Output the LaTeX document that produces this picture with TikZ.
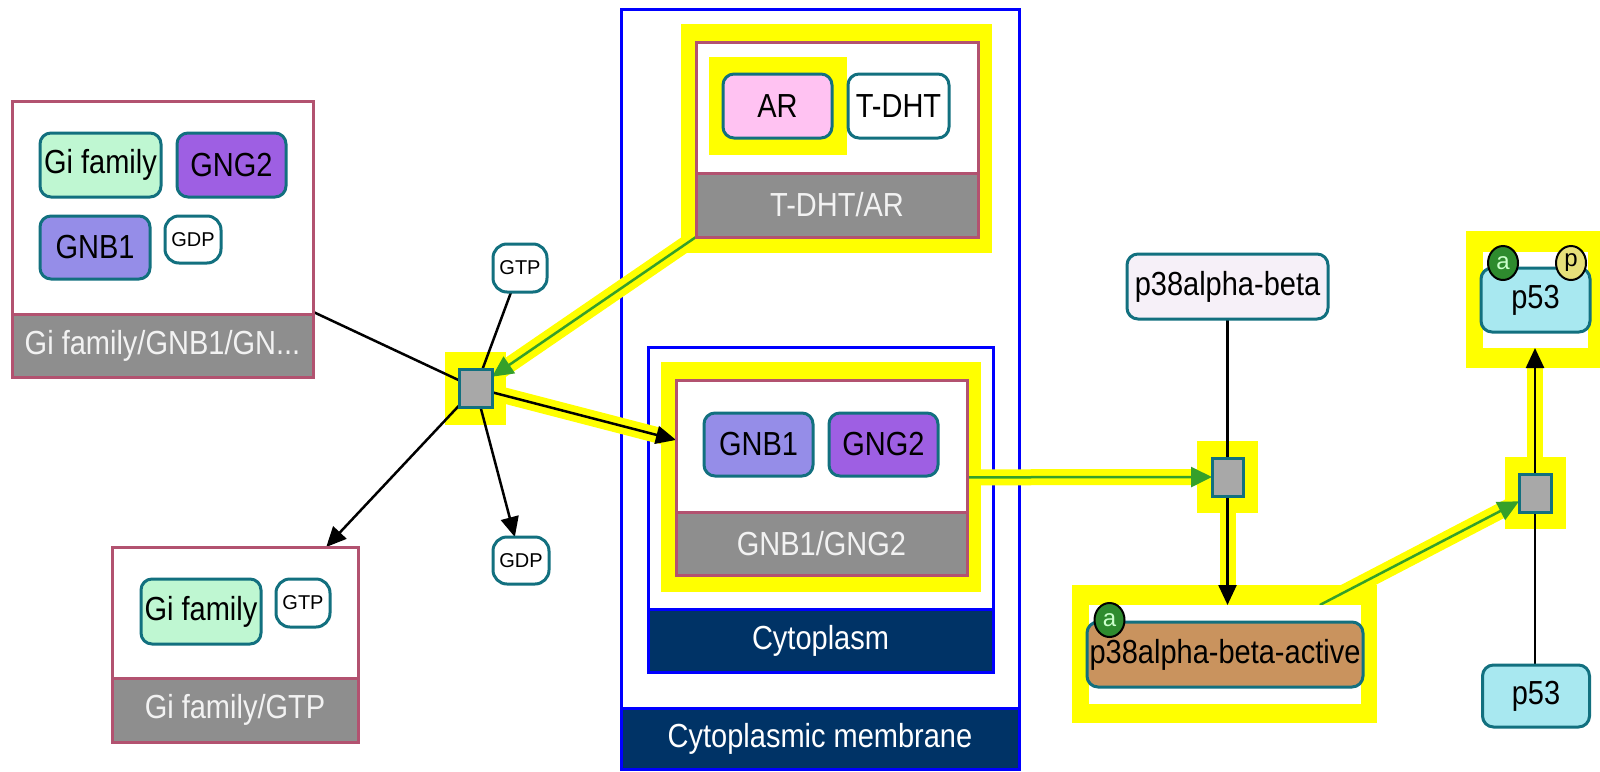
\documentclass[tikz,border=0pt]{standalone}
\usepackage{fontspec}
\setmainfont{Liberation Sans}
\usepackage{graphicx}
\usetikzlibrary{arrows.meta,shapes.geometric}
\pgfdeclarelayer{comp}\pgfdeclarelayer{hlay}\pgfdeclarelayer{elay}
\pgfsetlayers{comp,hlay,elay,main}
\newcommand{\vs}[1]{\scalebox{1}[1.15]{#1}}
\definecolor{mmb}{HTML}{12707F}
\definecolor{cxb}{HTML}{B25270}
\definecolor{cxg}{HTML}{8E8E8E}
\definecolor{cxt}{HTML}{F2F2F2}
\definecolor{navy}{HTML}{003366}
\definecolor{procg}{HTML}{A8A8A8}
\definecolor{gifam}{HTML}{BFF7D2}
\definecolor{gngc}{HTML}{9E5FE3}
\definecolor{gnbc}{HTML}{958DE8}
\definecolor{arc}{HTML}{FFC2F2}
\definecolor{p38c}{HTML}{F6F0F8}
\definecolor{p38ac}{HTML}{C9935E}
\definecolor{p53c}{HTML}{A8E8F0}
\definecolor{svg}{HTML}{2E8B2E}
\definecolor{svy}{HTML}{E6E07A}
\definecolor{edgeg}{HTML}{35A02A}
\definecolor{hly}{HTML}{FFFF00}
\begin{document}
\begin{tikzpicture}[x=1pt,y=-1pt,
  lbl/.style={font=\fontsize{29}{30}\selectfont},
  mm/.style={draw=mmb, line width=3pt, rounded corners=11pt, inner sep=0pt, outer sep=0pt, lbl},
  chem/.style={draw=mmb, fill=white, line width=3pt, rounded corners=14pt, inner sep=0pt, outer sep=0pt, font=\fontsize{20}{20}\selectfont},
  cplx/.style={draw=cxb, fill=white, line width=3pt, inner sep=0pt, outer sep=0pt},
  cplxlab/.style={draw=cxb, fill=cxg, line width=3pt, text=cxt, inner sep=0pt, lbl},
  compbox/.style={draw=blue, fill=white, line width=3pt, inner sep=0pt},
  complab/.style={draw=blue, fill=navy, line width=3pt, text=white, inner sep=0pt, lbl},
  proc/.style={draw=mmb, fill=procg, line width=3pt, inner sep=0pt, outer sep=0pt},
  hlbox/.style={fill=hly, draw=none, inner sep=0pt},
  wbox/.style={fill=white, draw=none, inner sep=0pt, outer sep=0pt},
  sv/.style={ellipse, draw=black, line width=2pt, minimum width=30pt, minimum height=34pt, inner sep=0pt, font=\fontsize{24}{24}\selectfont},
  conn/.style={line width=2.5pt, draw=black},
  blackarr/.style={conn, -{Triangle[length=20pt,width=18pt]}},
  greenarr/.style={line width=2.5pt, draw=edgeg, -{Triangle[length=21pt,width=20pt,fill=edgeg]}},
  hlline/.style={draw=hly, line width=16pt}
]
\useasboundingbox (0,0) rectangle (1600,771);

% ---------- compartments ----------
\begin{pgfonlayer}{comp}
  \fill[white] (0,0) rectangle (1600,771);
  \node[compbox, minimum width=398pt, minimum height=760pt] (memb) at (820,389) {};
  \node[complab, minimum width=398pt, minimum height=61pt] (membl) at (820,738.5) {\vs{Cytoplasmic membrane}};
  \node[compbox, minimum width=345pt, minimum height=325pt] (cyto) at (820.5,509.5) {};
  \node[complab, minimum width=345pt, minimum height=63pt] (cytol) at (820.5,640.5) {\vs{Cytoplasm}};
\end{pgfonlayer}

% ---------- highlights ----------
\begin{pgfonlayer}{hlay}
  \node[hlbox, minimum width=311pt, minimum height=229pt] (hltd) at (836.5,138.5) {};
  \node[hlbox, minimum width=320pt, minimum height=230pt] (hlgg) at (821,477) {};
  \node[hlbox, minimum width=61pt, minimum height=73pt] (hlp1) at (475.5,388.5) {};
  \node[hlbox, minimum width=61pt, minimum height=72pt] (hlp2) at (1227.5,477) {};
  \node[hlbox, minimum width=61pt, minimum height=72pt] (hlp3) at (1535.5,493) {};
  \node[hlbox, minimum width=305pt, minimum height=138pt] (hlpa) at (1224.5,654) {};
  \node[hlbox, minimum width=134pt, minimum height=137pt] (hl53) at (1533,299.5) {};
\end{pgfonlayer}

% ---------- complex Gi family/GNB1/GNG2/GDP ----------
\node[cplx, minimum width=301pt, minimum height=276pt] (cxA) at (162.5,239) {};
\node[cplxlab, minimum width=301pt, minimum height=63pt] (cxAl) at (162.5,345.5) {\vs{Gi family/GNB1/GN...}};
\node[mm, fill=gifam, minimum width=121pt, minimum height=64pt] (giA) at (100.5,165) {\vs{Gi family}};
\node[mm, fill=gngc, minimum width=109pt, minimum height=64pt] (gngA) at (231.5,165) {\vs{GNG2}};
\node[mm, fill=gnbc, minimum width=110pt, minimum height=63pt] (gnbA) at (95,247.5) {\vs{GNB1}};
\node[chem, minimum width=56pt, minimum height=47pt] (gdpA) at (193,239.5) {GDP};

% ---------- complex Gi family/GTP ----------
\node[cplx, minimum width=246pt, minimum height=195pt] (cxB) at (235,644.5) {};
\node[cplxlab, minimum width=246pt, minimum height=64pt] (cxBl) at (235,710) {\vs{Gi family/GTP}};
\node[mm, fill=gifam, minimum width=120pt, minimum height=65pt] (giB) at (201,611.5) {\vs{Gi family}};
\node[chem, minimum width=54pt, minimum height=48pt] (gtpB) at (303,603) {GTP};

% ---------- free GTP / GDP ----------
\node[chem, minimum width=54pt, minimum height=48pt] (gtp) at (520,268) {GTP};
\node[chem, minimum width=56pt, minimum height=47pt] (gdp) at (521,560.5) {GDP};

% ---------- process nodes ----------
\node[proc, minimum width=33pt, minimum height=38pt] (p1) at (475.5,388) {};
\node[proc, minimum width=31pt, minimum height=38pt] (p2) at (1227.5,477) {};
\node[proc, minimum width=32pt, minimum height=38pt] (p3) at (1535,493) {};

% ---------- complex T-DHT/AR ----------
\node[cplx, minimum width=282pt, minimum height=195pt] (tdc) at (837,139.5) {};
\node[cplxlab, minimum width=282pt, minimum height=64pt] (tdcl) at (837,205) {\vs{T-DHT/AR}};
\node[hlbox, minimum width=138pt, minimum height=98pt] (hlar) at (778,106) {};
\node[mm, fill=arc, minimum width=109pt, minimum height=64pt] (ar) at (777.5,106) {\vs{AR}};
\node[mm, fill=white, minimum width=101pt, minimum height=64pt] (tdht) at (898.5,106) {\vs{T-DHT}};

% ---------- complex GNB1/GNG2 ----------
\node[cplx, minimum width=291pt, minimum height=195pt] (gng) at (821.5,477.5) {};
\node[cplxlab, minimum width=291pt, minimum height=63pt] (gngl) at (821.5,543.5) {\vs{GNB1/GNG2}};
\node[mm, fill=gnbc, minimum width=109pt, minimum height=63pt] (gnb1) at (758.5,444.5) {\vs{GNB1}};
\node[mm, fill=gngc, minimum width=109pt, minimum height=63pt] (gng2) at (883.5,444.5) {\vs{GNG2}};

% ---------- p38 ----------
\node[mm, fill=p38c, minimum width=201pt, minimum height=65pt] (p38) at (1227.5,286.5) {\vs{p38alpha-beta}};
\node[wbox, minimum width=272pt, minimum height=99pt] (p38abox) at (1225,654.5) {};
\node[mm, fill=p38ac, minimum width=276pt, minimum height=65pt] (p38a) at (1225,654.5) {\vs{p38alpha-beta-active}};
\node[sv, fill=svg, text=white!80!green] (sv1) at (1109.5,620) {a};

% ---------- p53 ----------
\node[wbox, minimum width=105pt, minimum height=96pt] (p53w) at (1535.5,300) {};
\node[mm, fill=p53c, minimum width=109pt, minimum height=64pt] (p53t) at (1535.5,300) {\vs{p53}};
\node[sv, fill=svg, text=white!80!green] (sv2) at (1503,263) {a};
\node[sv, fill=svy, text=black] (sv3) at (1571,263) {p};
\node[mm, fill=p53c, minimum width=107pt, minimum height=62pt] (p53b) at (1536,696) {\vs{p53}};

% ---------- connectors ----------
\begin{pgfonlayer}{elay}
  % highlights
  \draw[hlline] (tdc.south west) -- (p1);
  \draw[hlline] (p1) -- (gng);
  \draw[hlline] (gng) -- (p2);
  \draw[hlline] (p2) -- (p2 |- p38abox.north);
  \draw[hlline] (p38abox) -- (p3);
  \draw[hlline] (p3) -- (p3 |- p53w.south);
  % process 1
  \draw[conn] (cxAl.north east) -- (p1);
  \draw[conn] (gtp) -- (p1);
  \draw[greenarr] (tdc.south west) -- (p1);
  \draw[blackarr] (p1) -- (gng);
  \draw[blackarr] (p1) -- (cxB);
  \draw[blackarr] (p1) -- (gdp);
  % process 2
  \draw[greenarr] (gng) -- (p2);
  \draw[conn] (p38) -- (p2);
  \draw[blackarr] (p2) -- (p2 |- p38abox.north);
  % process 3
  \draw[greenarr] (p38abox) -- (p3);
  \draw[conn] (p53b.north -| p3) -- (p3);
  \draw[blackarr] (p3) -- (p3 |- p53w.south);
\end{pgfonlayer}
\end{tikzpicture}
\end{document}
